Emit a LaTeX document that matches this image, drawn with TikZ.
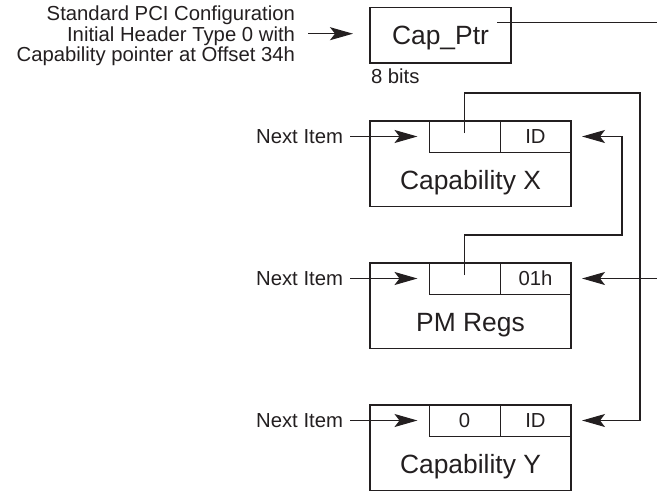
\documentclass[tikz,border=0pt]{standalone}
\usepackage{fontspec}
\setmainfont{Liberation Sans}
\usetikzlibrary{arrows.meta,calc}
\definecolor{ink}{HTML}{231F20}
\begin{document}
\begin{tikzpicture}[x=1pt,y=-1pt,
  every node/.style={text=ink, inner sep=0pt, outer sep=0pt},
  small/.style={font=\fontsize{20.3}{20.5}\selectfont},
  big/.style={font=\fontsize{26.4}{30}\selectfont},
  frame/.style={draw=ink, line width=1.6pt, minimum width=201pt, minimum height=85.5pt, anchor=north west},
  cell/.style={draw=ink, line width=1pt, minimum width=71pt, minimum height=31pt, anchor=north west, small},
  link/.style={draw=ink, line width=1.3pt},
  arrowto/.style={-{Stealth[length=23pt,width=13pt,inset=5pt]}},
]
\useasboundingbox (0,0) rectangle (657,493);

% capability pointer register in the header
\node[draw=ink, line width=1.6pt, minimum width=141pt, minimum height=55.4pt, big,
      text height=19pt, text depth=0pt] (cp) at (440.5,35) {Cap\_Ptr};
\node[small, anchor=base west] (bits) at (371,83.3) {8 bits};

\node[small, anchor=base east] (src1) at (295,20.7) {Standard PCI Configuration};
\node[small, anchor=base east] (src2) at (295,41.7) {Initial Header Type 0 with};
\node[small, anchor=base east] (src3) at (295,61.7) {Capability pointer at Offset 34h};

% capability X
\node[cell] (cxp) at (429,121) {};
\node[cell] (cxid) at (500,121) {ID};
\node[frame] (cx) at (370,121) {};
\node[big, anchor=base] (cxl) at ($(cx.north)+(0,68)$) {Capability X};

% power management registers
\node[cell] (pmp) at (429,263) {};
\node[cell] (pmid) at (500,263) {01h};
\node[frame] (pm) at (370,263) {};
\node[big, anchor=base] (pml) at ($(pm.north)+(0,68.5)$) {PM Regs};

% capability Y (end of list)
\node[cell] (cyp) at (429,405) {0};
\node[cell] (cyid) at (500,405) {ID};
\node[frame] (cy) at (370,405) {};
\node[big, anchor=base] (cyl) at ($(cy.north)+(0,68)$) {Capability Y};

% "Next Item" labels
\node[small, anchor=east] (n1) at ($(cxp.west)+(-86,0)$) {Next Item};
\node[small, anchor=east] (n2) at ($(pmp.west)+(-86,0)$) {Next Item};
\node[small, anchor=east] (n3) at ($(cyp.west)+(-86,0)$) {Next Item};

% routing points
\coordinate (capout) at (657,22.5);
\coordinate (pmin) at ($(pmid.east)+(86,0)$);
\coordinate (railA) at (640,93);
\coordinate (railB) at (622,235);

% connectors
\draw[link, arrowto] ($(src2.base east)+(13,-8)$) -- ($(src2.base east -| cp.west)+(-17,-8)$);
\draw[link] ($(cp.east |- capout)+(-14,0)$) -- (capout);
\draw[link, arrowto] (pmin) -- ($(pmid.east)+(11,0)$);
\draw[link, arrowto] ($(cxp.center)+(0,-3.5)$) |- (railA) |- ($(cyid.east)+(11,0)$);
\draw[link, arrowto] ($(pmp.center)+(0,-3.5)$) |- (railB) |- ($(cxid.east)+(11,0)$);
\draw[link, arrowto] ($(n1.east)+(7,0)$) -- ($(cxp.west)+(-11.5,0)$);
\draw[link, arrowto] ($(n2.east)+(7,0)$) -- ($(pmp.west)+(-11.5,0)$);
\draw[link, arrowto] ($(n3.east)+(7,0)$) -- ($(cyp.west)+(-11.5,0)$);
\end{tikzpicture}
\end{document}
